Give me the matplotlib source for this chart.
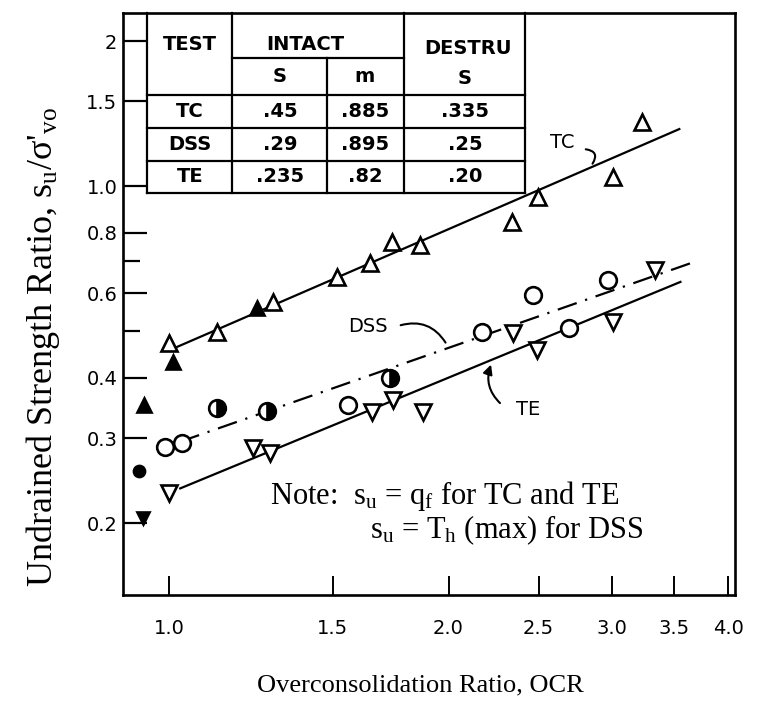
import numpy as np
import matplotlib.pyplot as plt
from matplotlib.ticker import FixedLocator, FixedFormatter, NullFormatter

plt.rcParams['mathtext.fontset'] = 'custom'
plt.rcParams['mathtext.rm'] = 'Liberation Serif'
plt.rcParams['mathtext.it'] = 'Liberation Serif:italic'

# --- data ---
tc_ocr = [1.0, 1.126, 1.294, 1.517, 1.647, 1.739, 1.864, 2.342, 2.498, 3.009, 3.235]
tc_su = [0.473, 0.498, 0.575, 0.648, 0.693, 0.766, 0.755, 0.843, 0.949, 1.045, 1.358]
tc_fill_ocr = [0.94, 1.01, 1.244]
tc_fill_su = [0.351, 0.431, 0.559]

dss_ocr = [0.99, 1.033, 1.559, 2.175, 2.468, 2.698, 2.972]
dss_su = [0.288, 0.293, 0.351, 0.498, 0.594, 0.508, 0.639]
dss_half_ocr = [1.126, 1.275, 1.731]
dss_half_su = [0.346, 0.342, 0.40]
dss_fill_ocr = [0.928]
dss_fill_su = [0.256]

te_ocr = [1.0, 1.232, 1.285, 1.655, 1.744, 1.878, 2.349, 2.492, 3.009, 3.34]
te_su = [0.231, 0.286, 0.279, 0.340, 0.360, 0.340, 0.496, 0.457, 0.523, 0.67]
te_fill_ocr = [0.9375]
te_fill_su = [0.205]

tc_line_ocr = [1.02, 3.545]
tc_line_su = [0.464, 1.314]
dss_line_ocr = [1.028, 3.707]
dss_line_su = [0.295, 0.70]
te_line_ocr = [1.028, 3.555]
te_line_su = [0.236, 0.633]

x_ticks = [1.0, 1.5, 2.0, 2.5, 3.0, 3.5, 4.0]
x_labels = ['1.0', '1.5', '2.0', '2.5', '3.0', '3.5', '4.0']
y_ticks = [0.2, 0.3, 0.4, 0.6, 0.8, 1.0, 1.5, 2.0]
y_labels = ['0.2', '0.3', '0.4', '0.6', '0.8', '1.0', '1.5', '2']
y_minor = [0.5, 0.7]

tests = ['TC', 'DSS', 'TE']
intact_s = ['.45', '.29', '.235']
intact_m = ['.885', '.895', '.82']
destru_s = ['.335', '.25', '.20']

# axes box in pixels of the 763x702 picture
L, R, T, B = 123, 735, 13, 595


def ax_frac(x, y):
    return ((x - L) / (R - L), (B - y) / (B - T))


fig = plt.figure(figsize=(7.63, 7.02), dpi=100)
ax = fig.add_axes([L / 763, 1 - B / 702, (R - L) / 763, (B - T) / 702])
ax.set_xscale('log')
ax.set_yscale('log')
ax.set_xlim(0.892, 4.07)
ax.set_ylim(0.1418, 2.288)

lw = 1.6
ax.plot(tc_line_ocr, tc_line_su, color='black', lw=lw, zorder=2)
ax.plot(dss_line_ocr, dss_line_su, color='black', lw=lw,
        linestyle=(0, (9, 4, 1, 4)), zorder=2)
ax.plot(te_line_ocr, te_line_su, color='black', lw=lw, zorder=2)

mk = dict(linestyle='none', markeredgecolor='black', markeredgewidth=1.9, zorder=3)
ax.plot(tc_ocr, tc_su, marker='^', markersize=11, markerfacecolor='white', **mk)
ax.plot(tc_fill_ocr, tc_fill_su, marker='^', markersize=10, markerfacecolor='black', **mk)
ax.plot(dss_ocr, dss_su, marker='o', markersize=12, markerfacecolor='white', **mk)
ax.plot(dss_half_ocr, dss_half_su, marker='o', markersize=12, markerfacecolor='black',
        fillstyle='right', markerfacecoloralt='white', **mk)
ax.plot(dss_fill_ocr, dss_fill_su, marker='o', markersize=8, markerfacecolor='black', **mk)
ax.plot(te_ocr, te_su, marker='v', markersize=11, markerfacecolor='white', **mk)
ax.plot(te_fill_ocr, te_fill_su, marker='v', markersize=9, markerfacecolor='black', **mk)

# ticks
ax.xaxis.set_major_locator(FixedLocator(x_ticks))
ax.xaxis.set_major_formatter(FixedFormatter(x_labels))
ax.xaxis.set_minor_locator(FixedLocator([]))
ax.yaxis.set_major_locator(FixedLocator(y_ticks))
ax.yaxis.set_major_formatter(FixedFormatter(y_labels))
ax.yaxis.set_minor_locator(FixedLocator(y_minor))
ax.yaxis.set_minor_formatter(NullFormatter())
ax.tick_params(axis='x', which='major', direction='in', length=14, width=1.4,
               pad=17, labelsize=14)
ax.tick_params(axis='y', which='major', direction='in', length=17, width=1.6,
               pad=4, labelsize=14)
ax.tick_params(axis='y', which='minor', direction='in', length=12, width=1.6)
for s in ax.spines.values():
    s.set_linewidth(1.9)

# table in the upper left corner
cols = [147, 232, 327, 404, 525]
rows = [13, 58, 95, 128, 161, 193]
tl = dict(color='black', lw=1.6, transform=ax.transAxes, clip_on=False, zorder=4)
for x in [147, 232, 404, 525]:
    ax.plot(*zip(ax_frac(x, 13), ax_frac(x, 193)), **tl)
ax.plot(*zip(ax_frac(327, 58), ax_frac(327, 193)), **tl)
ax.plot(*zip(ax_frac(232, 58), ax_frac(404, 58)), **tl)
for y in rows[2:]:
    ax.plot(*zip(ax_frac(147, y), ax_frac(525, y)), **tl)

tx = dict(transform=ax.transAxes, ha='center', va='center', fontsize=14,
          family='DejaVu Sans', weight='bold', zorder=5)
ax.text(*ax_frac(190, 44), 'TEST', **tx)
ax.text(*ax_frac(305, 44), 'INTACT', **tx)
ax.text(*ax_frac(468, 49), 'DESTRU', **tx)
ax.text(*ax_frac(280, 77), 'S', **tx)
ax.text(*ax_frac(365, 77), 'm', **tx)
ax.text(*ax_frac(465, 79), 'S', **tx)
cx = [190, 280, 365, 465]
for i, t in enumerate(tests):
    y = (rows[i + 2] + rows[i + 3]) / 2
    for c, val in zip(cx, [t, intact_s[i], intact_m[i], destru_s[i]]):
        ax.text(*ax_frac(c, y), val, **tx)

# curve labels with leaders
lab = dict(transform=ax.transAxes, ha='center', va='center', fontsize=14,
           family='DejaVu Sans')
ax.annotate('', xy=ax_frac(591, 166), xytext=ax_frac(583, 149),
            xycoords='axes fraction', textcoords='axes fraction',
            arrowprops=dict(arrowstyle='-', lw=1.5, connectionstyle='arc3,rad=-0.9'))
ax.text(*ax_frac(562, 142), 'TC', **lab)
ax.annotate('', xy=ax_frac(447, 345), xytext=ax_frac(398, 326),
            xycoords='axes fraction', textcoords='axes fraction',
            arrowprops=dict(arrowstyle='-', lw=1.5, connectionstyle='arc3,rad=-0.4'))
ax.text(*ax_frac(368, 327), 'DSS', **lab)
ax.annotate('', xy=ax_frac(492, 362), xytext=ax_frac(502, 405),
            xycoords='axes fraction', textcoords='axes fraction',
            arrowprops=dict(arrowstyle='-|>', lw=1.5, color='black',
                            connectionstyle='arc3,rad=-0.35', mutation_scale=14))
ax.text(*ax_frac(528, 409), 'TE', **lab)

# note
serif = 'Liberation Serif'
fig.text(270 / 763, 1 - 496 / 702, r'Note:  s$_\mathrm{u}$ = q$_\mathrm{f}$ for TC and TE',
         family=serif, fontsize=22, ha='left', va='center')
fig.text(370 / 763, 1 - 530 / 702, r's$_\mathrm{u}$ = T$_\mathrm{h}$ (max) for DSS',
         family=serif, fontsize=22, ha='left', va='center')

fig.text(420 / 763, 1 - 685 / 702, 'Overconsolidation Ratio, OCR',
         family=serif, fontsize=19, ha='center', va='center')
fig.text(43 / 763, 1 - 347 / 702, r"Undrained Strength Ratio, s$_\mathrm{u}$/σ'$_\mathrm{vo}$",
         family=serif, fontsize=26, ha='center', va='center', rotation=90)

fig.savefig('out.png', dpi=100)
